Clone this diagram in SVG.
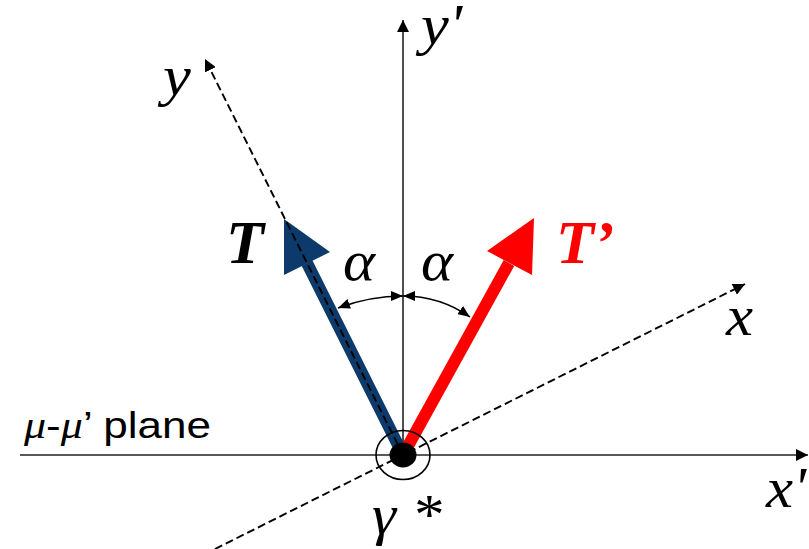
<svg xmlns="http://www.w3.org/2000/svg" width="809" height="549" viewBox="0 0 809 549">
<defs>
<style>
.axis{stroke:#222;stroke-width:1.6;fill:none}
.dash{stroke:#000;stroke-width:1.9;fill:none;stroke-dasharray:8 4}
.arc{stroke:#000;stroke-width:1.5;fill:none}
.lbl{font-family:"Liberation Serif","Times New Roman",serif;font-style:italic;font-size:58px;fill:#000}
.big{font-family:"Liberation Serif","Times New Roman",serif;font-style:italic;font-weight:bold;font-size:62px}
.sans{font-family:"Liberation Sans",Arial,sans-serif;font-size:37px;fill:#000}
</style>
<marker id="ah" viewBox="0 0 12 12" refX="12" refY="6" markerWidth="12" markerHeight="12" markerUnits="userSpaceOnUse" orient="auto-start-reverse">
<path d="M0,0 L12,6 L0,12 Z" fill="#000"/>
</marker>
<marker id="ahs" viewBox="0 0 12 10" refX="12" refY="5" markerWidth="12" markerHeight="10" markerUnits="userSpaceOnUse" orient="auto-start-reverse">
<path d="M0,0 L12,5 L0,10 Z" fill="#000"/>
</marker>
</defs>
<g id="connectors">
<line id="axis-xp" class="axis" x1="20" y1="455" x2="808" y2="455" marker-end="url(#ah)"/>
<line id="axis-yp" class="axis" x1="403" y1="455" x2="403" y2="20" marker-end="url(#ah)"/>
<line id="axis-x" class="dash" x1="215" y1="549" x2="745" y2="284" marker-end="url(#ah)"/>
</g>
<g id="vec-T">
<line x1="403" y1="455" x2="307" y2="263" stroke="#0C3A6B" stroke-width="12"/>
<polygon points="284,219 284,275 330,252" fill="#0C3A6B"/>
</g>
<g id="vec-Tp">
<line x1="403" y1="455" x2="509" y2="263" stroke="#FF0000" stroke-width="12"/>
<polygon points="534,218 487,251 532,275" fill="#FF0000"/>
</g>
<g id="axis-y-group">
<line id="axis-y" class="dash" x1="403" y1="455" x2="205" y2="59" marker-end="url(#ah)"/>
</g>
<g id="origin">
<ellipse cx="403" cy="455" rx="27" ry="24.5" fill="none" stroke="#000" stroke-width="1.6"/>
<ellipse cx="403" cy="455" rx="13.5" ry="12.5" fill="#000"/>
</g>
<g id="angles">
<path class="arc" d="M403,296 Q370,296 338,308" marker-start="url(#ahs)" marker-end="url(#ahs)"/>
<path class="arc" d="M403,296 Q440,296 470,317" marker-start="url(#ahs)" marker-end="url(#ahs)"/>
</g>
<g id="labels">
<text class="lbl" transform="translate(163,95) scale(1.08,1)">y</text>
<text class="lbl" transform="translate(421,44) scale(1.08,1)">y'</text>
<text class="big" x="226" y="263" fill="#000">T</text>
<text class="big" x="556" y="263" fill="#FF0000">T’</text>
<text class="lbl" transform="translate(343,280) scale(1.05,1)">α</text>
<text class="lbl" transform="translate(421,280) scale(1.05,1)">α</text>
<text class="lbl" transform="translate(726,335) scale(1.05,1)">x</text>
<text class="lbl" transform="translate(766,507) scale(1.05,1)">x'</text>
<text class="lbl" transform="translate(372,534) scale(1.05,1)">γ *</text>
<text class="sans" transform="translate(24,438) scale(1.19,1)"><tspan font-family="'Liberation Serif',serif" font-style="italic">μ</tspan>-<tspan font-family="'Liberation Serif',serif" font-style="italic">μ</tspan>’ plane</text>
</g>
</svg>
